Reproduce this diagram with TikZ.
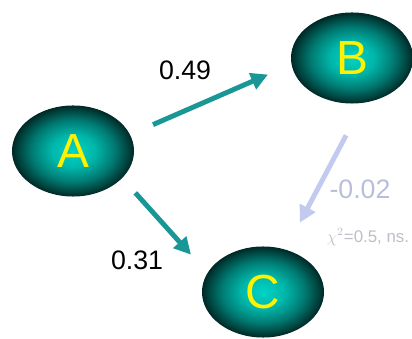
\documentclass[tikz,border=0pt]{standalone}
\usepackage{fontspec}
\setmainfont{Liberation Sans}
\usetikzlibrary{arrows.meta, shapes.geometric}

\definecolor{pathteal}{RGB}{25,150,150}
\definecolor{nspath}{RGB}{195,202,240}
\definecolor{nstext}{RGB}{185,190,218}
\definecolor{notetext}{RGB}{190,190,200}
\definecolor{eggcore}{RGB}{0,212,196}
\definecolor{eggin}{RGB}{0,182,170}
\definecolor{eggmid}{RGB}{0,122,114}
\definecolor{eggdark}{RGB}{0,72,67}
\definecolor{eggrim}{RGB}{0,40,38}

\pgfdeclareradialshading{egg}{\pgfpointorigin}{color(0bp)=(eggcore); color(9bp)=(eggin); color(17bp)=(eggmid); color(22bp)=(eggdark); color(25bp)=(eggrim); color(50bp)=(eggrim)}

\begin{document}
\begin{tikzpicture}[
    x=0.025cm, y=-0.025cm,
    >={Triangle[length=12pt, width=12pt]},
    var/.style={ellipse, shading=egg, inner sep=0pt, minimum width=3.05cm, minimum height=2.275cm, text=yellow, font=\fontsize{34}{34}\selectfont},
    weight/.style={font=\fontsize{19}{19}\selectfont},
    link/.style={->, line width=3.5pt, color=pathteal},
    nslink/.style={->, line width=3.5pt, color=nspath}
]
\useasboundingbox (0,0) rectangle (412,339);

% variables
\node[var] (A) at (73,151) {A};
\node[var] (B) at (352,58) {B};
\node[var] (C) at (263,292) {C};

% paths
\draw[link, shorten <=17.7pt, shorten >=18.1pt] (A.16) -- (B.186);
\draw[link, shorten <=13.9pt, shorten >=17.4pt] (A.-29) -- (C.161);
\draw[nslink, shorten <=26pt, shorten >=21.5pt] (B.-76) -- (C.62);

% coefficients
\node[weight] (wAB) at (185,70) {0.49};
\node[weight] (wAC) at (137,260) {0.31};
\node[weight, text=nstext] (wBC) at (360,189) {-0.02};
\node[font=\fontsize{12}{12}\selectfont, text=notetext] (test) at (368,237) {$\chi^2$=0.5, ns.};

\end{tikzpicture}
\end{document}
